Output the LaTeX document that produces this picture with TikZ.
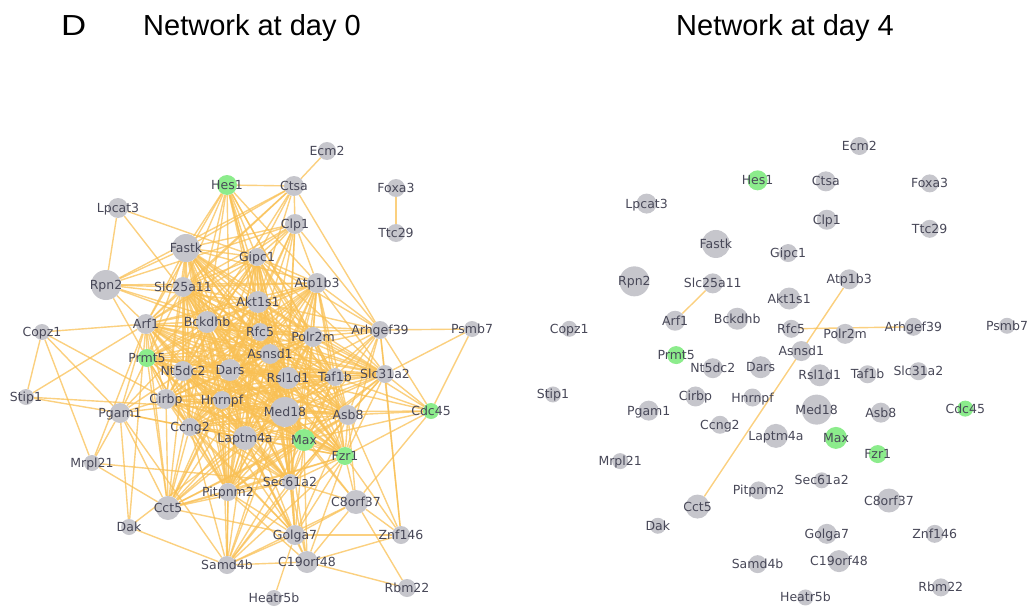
\documentclass[tikz,border=0pt]{standalone}
\usepackage{fontspec}
\setmainfont{Liberation Sans}
\newfontfamily\genefont{DejaVu Sans}
\usetikzlibrary{backgrounds}
\definecolor{nodegray}{RGB}{198,198,204}
\definecolor{nodegreen}{RGB}{140,236,140}
\definecolor{linkorange}{RGB}{249,192,84}
\definecolor{labelgray}{RGB}{72,72,88}
% gene / x / y / radius / fill  (day 0 layout, pixels)
\newcommand\genes{Ecm2/327/151/9/nodegray, Hes1/227/185/10/nodegreen,
Ctsa/294/186/10/nodegray, Foxa3/396/188/9/nodegray, Ttc29/396/233/9/nodegray,
Clp1/295/224/10/nodegray, Lpcat3/118/208/10/nodegray, Fastk/186/248/14/nodegray,
Gipc1/257/257/9/nodegray, Rpn2/106/285/15/nodegray, Slc25a11/183/287/10/nodegray,
Atp1b3/317/283/10/nodegray, Akt1s1/258/302/11/nodegray, Arf1/146/324/10/nodegray,
Bckdhb/207/322/11/nodegray, Rfc5/260/332/9/nodegray, Polr2m/313/337/10/nodegray,
Arhgef39/380/330/9/nodegray, Psmb7/472/329/8/nodegray, Copz1/42/332/8/nodegray,
Prmt5/147/358/9/nodegreen, Asnsd1/270/354/10/nodegray, Nt5dc2/183/371/10/nodegray,
Dars/230/370/11/nodegray, Rsl1d1/288/378/11/nodegray, Taf1b/335/377/9/nodegray,
Slc31a2/385/374/9/nodegray, Stip1/26/397/8/nodegray, Cirbp/166/399/10/nodegray,
Hnrnpf/222/400/9/nodegray, Pgam1/120/413/10/nodegray, Med18/285/412/15/nodegray,
Asb8/348/415/10/nodegray, Cdc45/431/411/8/nodegreen, Ccng2/190/427/9/nodegray,
Laptm4a/245/438/12/nodegray, Max/304/440/11/nodegreen, Fzr1/345/456/9/nodegreen,
Mrpl21/92/463/8/nodegray, Sec61a2/290/482/8/nodegray, Pitpnm2/228/492/9/nodegray,
C8orf37/356/502/12/nodegray, Cct5/168/508/12/nodegray, Dak/129/527/8/nodegray,
Golga7/295/535/10/nodegray, Znf146/401/535/9/nodegray, Samd4b/227/565/9/nodegray,
C19orf48/307/562/11/nodegray, Rbm22/407/588/9/nodegray, Heatr5b/274/598/8/nodegray}
% densely linked genes (all pairs)
\newcommand\coregenes{Fastk, Gipc1, Slc25a11, Akt1s1, Arf1, Bckdhb, Rfc5, Polr2m,
Prmt5, Asnsd1, Nt5dc2, Dars, Rsl1d1, Taf1b, Cirbp, Hnrnpf, Med18, Ccng2, Laptm4a,
Max, Fzr1, Sec61a2, Pitpnm2, Asb8, Slc31a2, Atp1b3}
% other links at day 0
\newcommand\hublinks{Ecm2/Ctsa, Foxa3/Ttc29,
Hes1/Ctsa, Hes1/Fastk, Hes1/Slc25a11, Hes1/Gipc1, Hes1/Akt1s1, Hes1/Rfc5,
Hes1/Polr2m, Hes1/Bckdhb, Hes1/Arf1, Hes1/Dars, Hes1/Asnsd1, Hes1/Atp1b3,
Hes1/Rsl1d1, Hes1/Taf1b, Hes1/Nt5dc2,
Ctsa/Clp1, Ctsa/Arhgef39, Ctsa/Fastk, Ctsa/Slc25a11, Ctsa/Gipc1, Ctsa/Akt1s1,
Ctsa/Bckdhb, Ctsa/Rpn2, Ctsa/Arf1,
Clp1/Arhgef39, Clp1/Gipc1, Clp1/Akt1s1, Clp1/Rfc5, Clp1/Bckdhb, Clp1/Fastk,
Clp1/Slc25a11, Clp1/Asnsd1, Clp1/Dars, Clp1/Arf1, Clp1/Rpn2, Clp1/Med18,
Clp1/Rsl1d1, Clp1/Atp1b3,
Lpcat3/Rpn2, Lpcat3/Bckdhb, Lpcat3/Gipc1,
Rpn2/Slc25a11, Rpn2/Arf1, Rpn2/Akt1s1, Rpn2/Bckdhb, Rpn2/Rfc5, Rpn2/Fastk,
Rpn2/Atp1b3, Rpn2/Prmt5,
Copz1/Arf1, Copz1/Stip1, Copz1/Pgam1, Copz1/Mrpl21, Copz1/Cirbp,
Stip1/Arf1, Stip1/Pgam1, Stip1/Med18,
Pgam1/Arf1, Pgam1/Prmt5, Pgam1/Mrpl21, Pgam1/Cct5, Pgam1/Dak, Pgam1/Cirbp,
Pgam1/Ccng2, Pgam1/Nt5dc2, Pgam1/Laptm4a, Pgam1/Hnrnpf, Pgam1/Bckdhb, Pgam1/Samd4b,
Mrpl21/Sec61a2, Mrpl21/Arf1, Mrpl21/Cct5,
Dak/Samd4b, Dak/Arf1, Dak/Laptm4a,
Cct5/Arf1, Cct5/Prmt5, Cct5/Nt5dc2, Cct5/Cirbp, Cct5/Ccng2, Cct5/Laptm4a,
Cct5/Med18, Cct5/Max, Cct5/Sec61a2, Cct5/Pitpnm2, Cct5/Hnrnpf, Cct5/Dars,
Cct5/Rsl1d1, Cct5/Fzr1, Cct5/Bckdhb, Cct5/Asnsd1, Cct5/Rfc5, Cct5/Asb8, Cct5/Golga7,
Samd4b/Pitpnm2, Samd4b/Golga7, Samd4b/C19orf48, Samd4b/Sec61a2, Samd4b/Max,
Samd4b/Fzr1, Samd4b/Med18, Samd4b/Laptm4a, Samd4b/Asb8, Samd4b/Rsl1d1,
Samd4b/Ccng2, Samd4b/Hnrnpf, Samd4b/C8orf37, Samd4b/Dars,
Golga7/C19orf48, Golga7/Znf146, Golga7/Heatr5b, Golga7/C8orf37, Golga7/Sec61a2,
Golga7/Max, Golga7/Fzr1, Golga7/Med18, Golga7/Laptm4a, Golga7/Hnrnpf, Golga7/Dars,
Golga7/Rsl1d1, Golga7/Asb8, Golga7/Pitpnm2, Golga7/Ccng2, Golga7/Nt5dc2, Golga7/Cirbp,
C19orf48/Znf146, C19orf48/Rbm22, C19orf48/C8orf37, C19orf48/Fzr1, C19orf48/Max,
C19orf48/Sec61a2, C19orf48/Med18, C19orf48/Pitpnm2, C19orf48/Laptm4a,
C8orf37/Fzr1, C8orf37/Znf146, C8orf37/Rbm22, C8orf37/Max, C8orf37/Asb8,
C8orf37/Sec61a2, C8orf37/Med18, C8orf37/Cdc45,
Znf146/Fzr1, Znf146/Arhgef39, Znf146/Slc31a2, Znf146/Asb8,
Arhgef39/Psmb7, Arhgef39/Cdc45, Arhgef39/Slc31a2, Arhgef39/Taf1b, Arhgef39/Polr2m,
Arhgef39/Rfc5, Arhgef39/Akt1s1, Arhgef39/Atp1b3, Arhgef39/Gipc1, Arhgef39/Asb8,
Arhgef39/Fzr1, Arhgef39/Med18, Arhgef39/Rsl1d1, Arhgef39/Asnsd1, Arhgef39/Bckdhb,
Arhgef39/Max,
Psmb7/Slc31a2, Psmb7/Cdc45,
Cdc45/Slc31a2, Cdc45/Asb8, Cdc45/Fzr1, Cdc45/Taf1b, Cdc45/Med18, Cdc45/Max,
Cdc45/Rsl1d1, Cdc45/Polr2m}
\begin{document}
\begin{tikzpicture}[x=1pt,y=-1pt,
  gene/.style={circle,inner sep=0pt,draw=none},
  genetext/.style={font={\genefont\fontsize{12.5}{14}\selectfont},text=labelgray,
    inner sep=0pt,text height=9pt,text depth=0pt},
  link/.style={draw=linkorange,line width=1.4pt,opacity=0.75},
  title/.style={font={\fontsize{29}{34}\selectfont},anchor=base west,inner sep=0pt}]
\useasboundingbox (0,0) rectangle (1030,607);
\node[title,xscale=1.2] (panel) at (61,36) {D};
\node[title] (title0) at (143,36) {Network at day 0};
\node[title] (title4) at (676,36) {Network at day 4};
% the two layouts: day 0 (L) and day 4 (R)
\foreach \p/\sx/\dx/\sy/\dy in {L/1/0/1/0, R/1.018/526.5/1.01/-6.5}{
  \foreach \g/\x/\y/\r/\c in \genes{
    \node[gene,fill=\c,minimum size={2*\r pt}] (\p\g) at ({\sx*\x+\dx},{\sy*\y+\dy}) {};
  }
  \foreach \g/\x/\y/\r/\c in \genes{
    \node[genetext] (\p\g-t) at (\p\g) {\g};
  }
}
\begin{pgfonlayer}{background}
\foreach \a [count=\i] in \coregenes{
  \foreach \b [count=\j] in \coregenes{
    \ifnum\j>\i \draw[link] (L\a) -- (L\b);\fi
  }
}
\foreach \a/\b in \hublinks{
  \draw[link] (L\a) -- (L\b);
}
\foreach \a/\b in {Slc25a11/Arf1, Atp1b3/Cct5, Rfc5/Arhgef39}{
  \draw[link] (R\a) -- (R\b);
}
\end{pgfonlayer}
\end{tikzpicture}
\end{document}
